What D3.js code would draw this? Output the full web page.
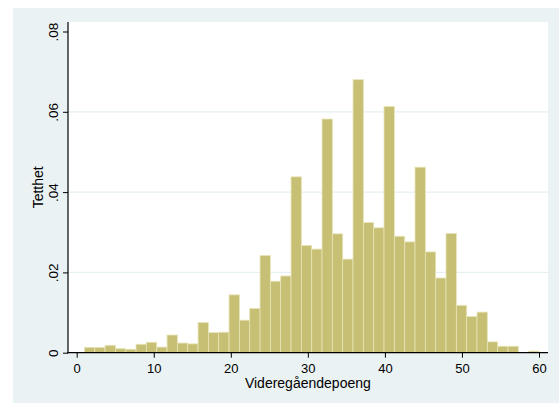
<!DOCTYPE html>
<html>
<head>
<meta charset="utf-8">
<script src="https://cdn.jsdelivr.net/npm/d3@7"></script>
<style>
  html, body { margin: 0; padding: 0; background: #ffffff; }
  svg { display: block; }
  text { font-family: "Liberation Sans", Arial, sans-serif; fill: #000; }
</style>
</head>
<body>
<svg id="chart" width="559" height="403"></svg>
<script>
// Histogram of videregåendepoeng: 44 equal-width bins from 1 to 60, density scale
const binLow = 1;
const binHigh = 60;
const density = [
  0.00134, 0.0013, 0.00184, 0.0010, 0.00085, 0.0021, 0.0026, 0.0014, 0.0044, 0.0024,
  0.0022, 0.0075, 0.0050, 0.0051, 0.0144, 0.0081, 0.0110, 0.0242, 0.0178, 0.0191,
  0.0438, 0.0267, 0.0258, 0.0582, 0.0296, 0.0233, 0.0680, 0.0324, 0.0311, 0.0613,
  0.0290, 0.0276, 0.0462, 0.0251, 0.0186, 0.0297, 0.0118, 0.0090, 0.0101, 0.0027,
  0.0016, 0.0016, 0.0000, 0.0004
];
const xTicks = [0, 10, 20, 30, 40, 50, 60];
const yTicks = [0, 0.02, 0.04, 0.06, 0.08];
const xTitle = "Videregåendepoeng";
const yTitle = "Tetthet";

const binWidth = (binHigh - binLow) / density.length;
const bins = density.map((d, i) => ({
  x0: binLow + i * binWidth,
  x1: binLow + (i + 1) * binWidth,
  value: d
}));

const svg = d3.select("#chart");

// frame geometry
const outer = { left: 13, top: 8, right: 559, bottom: 403 };
const plot = { left: 68, top: 22, right: 548, bottom: 352.7 };

const x = d3.scaleLinear().domain([0, 60]).range([76.7, 539]);
const y = d3.scaleLinear().domain([0, 0.08]).range([plot.bottom, 31.5]);

// graph region and plot region
svg.append("rect")
  .attr("x", outer.left).attr("y", outer.top)
  .attr("width", outer.right - outer.left).attr("height", outer.bottom - outer.top)
  .attr("fill", "#eaf2f3");
svg.append("rect")
  .attr("x", plot.left).attr("y", plot.top)
  .attr("width", plot.right - plot.left).attr("height", plot.bottom - plot.top)
  .attr("fill", "#ffffff");

// horizontal grid lines (interior ticks only)
svg.append("g")
  .selectAll("line")
  .data(yTicks.filter(t => t > 0 && t < 0.08))
  .join("line")
  .attr("x1", plot.left).attr("x2", plot.right)
  .attr("y1", d => y(d)).attr("y2", d => y(d))
  .attr("stroke", "#e6eff1")
  .attr("stroke-width", 1.2);

// bars
svg.append("g")
  .selectAll("rect")
  .data(bins)
  .join("rect")
  .attr("x", d => x(d.x0))
  .attr("width", d => x(d.x1) - x(d.x0))
  .attr("y", d => y(d.value))
  .attr("height", d => y(0) - y(d.value))
  .attr("fill", "#c6bf74")
  .attr("stroke", "#e8e4b6")
  .attr("stroke-width", 0.8);

const fmtY = d => d === 0 ? "0" : d3.format(".2f")(d).replace(/^0/, "");

// y axis
const yAxis = svg.append("g")
  .attr("transform", `translate(${plot.left},0)`)
  .call(d3.axisLeft(y).tickValues(yTicks).tickSize(5).tickFormat(fmtY));
yAxis.select(".domain").remove();
yAxis.selectAll(".tick line").attr("stroke", "#000").attr("stroke-width", 1);
yAxis.selectAll(".tick text")
  .attr("x", null).attr("dy", null)
  .attr("transform", "translate(-10.5,0) rotate(-90)")
  .attr("text-anchor", "middle")
  .attr("dominant-baseline", "alphabetic")
  .style("font-size", "13.5px")
  .style("font-family", "'Liberation Sans', Arial, sans-serif");
svg.append("line")
  .attr("x1", plot.left).attr("x2", plot.left)
  .attr("y1", plot.top).attr("y2", plot.bottom + 0.5)
  .attr("stroke", "#000").attr("stroke-width", 1.2);

// x axis
const xAxis = svg.append("g")
  .attr("transform", `translate(0,${plot.bottom})`)
  .call(d3.axisBottom(x).tickValues(xTicks).tickSize(5).tickFormat(d3.format("d")));
xAxis.select(".domain").remove();
xAxis.selectAll(".tick line").attr("stroke", "#000").attr("stroke-width", 1);
xAxis.selectAll(".tick text")
  .attr("y", 20.8).attr("dy", null)
  .attr("dominant-baseline", "alphabetic")
  .style("font-size", "13px")
  .style("font-family", "'Liberation Sans', Arial, sans-serif");
svg.append("line")
  .attr("x1", plot.left - 0.5).attr("x2", plot.right)
  .attr("y1", plot.bottom).attr("y2", plot.bottom)
  .attr("stroke", "#000").attr("stroke-width", 1.2);

// axis titles
svg.append("text")
  .attr("x", (x(0) + x(60)) / 2)
  .attr("y", 388)
  .attr("text-anchor", "middle")
  .style("font-size", "14px")
  .text(xTitle);
svg.append("text")
  .attr("transform", `translate(43,${(plot.top + plot.bottom) / 2}) rotate(-90)`)
  .attr("text-anchor", "middle")
  .style("font-size", "14px")
  .text(yTitle);
</script>
</body>
</html>
